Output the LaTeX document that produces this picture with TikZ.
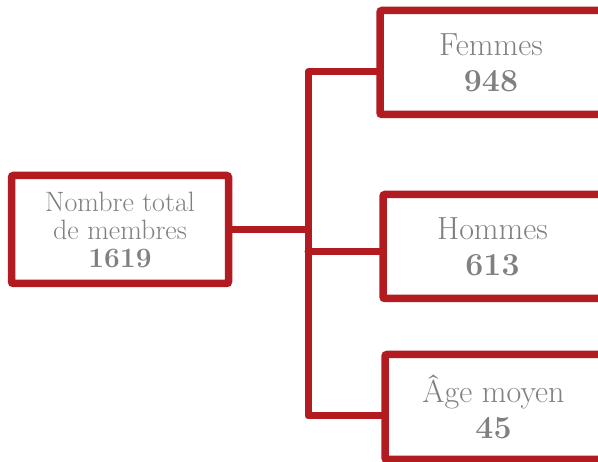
\documentclass[tikz,border=0pt]{standalone}
\usepackage{tikz}
\usetikzlibrary{calc,positioning}
\definecolor{boxred}{RGB}{178,28,32}
\definecolor{textgray}{RGB}{128,128,128}

\begin{document}
\begin{tikzpicture}[x=1pt, y=-1pt,
  statbox/.style={draw=boxred, line width=7.5pt, fill=white, rounded corners=2pt,
    inner sep=0pt, align=center, text=textgray, font=\fontsize{32}{36}\selectfont},
  link/.style={draw=boxred, line width=7pt, line join=round, line cap=round}]
\useasboundingbox (0,0) rectangle (598,462);
\clip (0,0) rectangle (598,462);

% Total
\node[statbox, minimum width=217pt, minimum height=108pt,
  font=\fontsize{28}{28}\selectfont] (total) at (120,229.5)
  {Nombre total\\de membres\\\textbf{1619}};

% Three groups
\node[statbox, minimum width=222pt, minimum height=104pt] (femmes) at (491,62.5)
  {Femmes\\\textbf{948}};
\node[statbox, minimum width=219pt, minimum height=104pt] (hommes) at (492.5,246.5)
  {Hommes\\\textbf{613}};
\node[statbox, minimum width=217pt, minimum height=105pt] (age) at (493.5,407)
  {Âge moyen\\\textbf{45}};

% Tree lines
\coordinate (trunk top) at (308,72);
\coordinate (trunk bot) at (308,416);
\coordinate (hb) at ([yshift=-5pt]hommes.west);
\draw[link] (total.east) -- (total.east -| trunk top);
\draw[link] (femmes.west |- trunk top) -- (trunk top) -- (trunk bot) -- (age.west |- trunk bot);
\draw[link] (hb) -- (hb -| trunk top);
\end{tikzpicture}
\end{document}
